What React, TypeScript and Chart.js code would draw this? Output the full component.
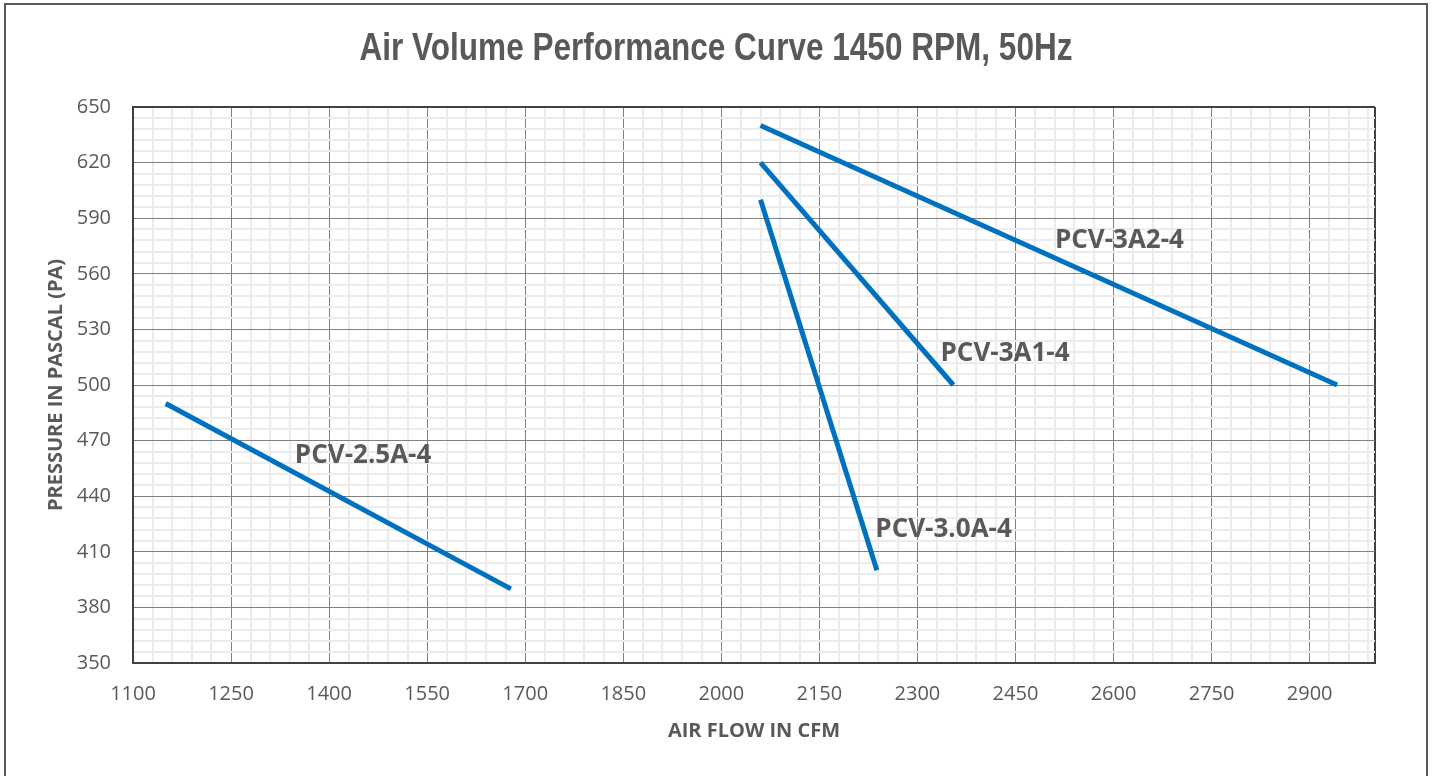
import { useEffect, useRef } from "react";
import { Chart, registerables } from "chart.js";

Chart.register(...registerables);

const TITLE = "Air Volume Performance Curve 1450 RPM, 50Hz";
const X_TITLE = "AIR FLOW IN CFM";
const Y_TITLE = "PRESSURE IN PASCAL (PA)";

const xMin = 1100;
const xMax = 3000;
const xMinorStep = 30;
const yMin = 350;
const yMax = 650;
const yMinorStep = 6;
const xTickLabels = [1100, 1250, 1400, 1550, 1700, 1850, 2000, 2150, 2300, 2450, 2600, 2750, 2900];
const yTickLabels = [350, 380, 410, 440, 470, 500, 530, 560, 590, 620, 650];

const seriesNames = ["PCV-2.5A-4", "PCV-3.0A-4", "PCV-3A1-4", "PCV-3A2-4"];
const pcv25Flow = [1150, 1678];
const pcv25Pressure = [490, 390];
const pcv30Flow = [2060, 2238];
const pcv30Pressure = [600, 400];
const pcv3a1Flow = [2060, 2355];
const pcv3a1Pressure = [620, 500];
const pcv3a2Flow = [2060, 2942];
const pcv3a2Pressure = [640, 500];
const labelFlow = [1452, 2340, 2434, 2609];
const labelPressure = [462, 422, 517, 578];

const LINE_COLOR = "#0070C0";
const TEXT_COLOR = "#595959";
const FRAME_COLOR = "#404040";
const MAJOR_GRID = "#808080";
const MINOR_GRID = "#ececec";

const TITLE_WIDTH = 713;
const TITLE_CENTER_Y = 49;

const flows = [pcv25Flow, pcv30Flow, pcv3a1Flow, pcv3a2Flow];
const pressures = [pcv25Pressure, pcv30Pressure, pcv3a1Pressure, pcv3a2Pressure];

function buildTicks(min: number, max: number, step: number) {
  const out: number[] = [];
  for (let v = min; v < max; v += step) out.push(v);
  out.push(max);
  return out;
}

const labelPlugin = {
  id: "seriesLabels",
  afterDatasetsDraw(chart: any) {
    const { ctx, scales } = chart;
    ctx.save();
    ctx.font = 'bold 26px "Open Sans"';
    ctx.fillStyle = TEXT_COLOR;
    ctx.textAlign = "center";
    ctx.textBaseline = "middle";
    seriesNames.forEach((name, i) => {
      ctx.fillText(name, scales.x.getPixelForValue(labelFlow[i]), scales.y.getPixelForValue(labelPressure[i]));
    });
    ctx.restore();
  },
};

const condensedTitlePlugin = {
  id: "condensedTitle",
  afterDraw(chart: any) {
    const { ctx, width } = chart;
    ctx.save();
    ctx.font = 'bold 39px "Liberation Sans", Arial, sans-serif';
    ctx.fillStyle = TEXT_COLOR;
    ctx.textAlign = "center";
    ctx.textBaseline = "middle";
    const w = ctx.measureText(TITLE).width;
    const sx = TITLE_WIDTH / w;
    ctx.translate(width / 2, TITLE_CENTER_Y);
    ctx.scale(sx, 1);
    ctx.fillText(TITLE, 0, 0);
    ctx.restore();
  },
};

export default function App() {
  const ref = useRef<HTMLCanvasElement>(null);
  useEffect(() => {
    if (!ref.current) return;
    const xTicks = buildTicks(xMin, xMax, xMinorStep);
    const yTicks = buildTicks(yMin, yMax, yMinorStep);
    const chart = new Chart(ref.current, {
      type: "scatter",
      data: {
        datasets: seriesNames.map((name, i) => ({
          label: name,
          data: flows[i].map((f, j) => ({ x: f, y: pressures[i][j] })),
          showLine: true,
          borderColor: LINE_COLOR,
          backgroundColor: LINE_COLOR,
          borderWidth: 5,
          borderCapStyle: "butt",
          pointRadius: 0,
          pointHoverRadius: 0,
        })),
      },
      options: {
        responsive: false,
        animation: false,
        layout: { padding: { left: 44, right: 57, top: 107, bottom: 31 } },
        plugins: {
          legend: { display: false },
          tooltip: { enabled: false },
          title: { display: false },
        },
        scales: {
          x: {
            type: "linear",
            min: xMin,
            max: xMax,
            afterBuildTicks: (axis: any) => {
              axis.ticks = xTicks.map((v) => ({ value: v }));
            },
            afterFit: (scale: any) => {
              scale.height = 82;
            },
            ticks: {
              autoSkip: false,
              maxRotation: 0,
              minRotation: 0,
              padding: 19,
              color: TEXT_COLOR,
              font: { family: '"Open Sans"', size: 20 },
              callback: (v: any) => (xTickLabels.includes(v) ? String(v) : ""),
            },
            grid: {
              drawTicks: false,
              color: (c: any) => {
                const v = c.tick?.value;
                if (v === xMin || v === xMax) return FRAME_COLOR;
                return xTickLabels.includes(v) ? MAJOR_GRID : MINOR_GRID;
              },
              lineWidth: (c: any) => {
                const v = c.tick?.value;
                if (v === xMin || v === xMax) return 2;
                return xTickLabels.includes(v) ? 1 : 2;
              },
            },
            border: { display: true, color: FRAME_COLOR, width: 2 },
            title: {
              display: true,
              text: X_TITLE,
              color: TEXT_COLOR,
              font: { family: '"Open Sans"', size: 20, weight: "bold" },
              padding: { top: 0, bottom: 2 },
            },
          },
          y: {
            type: "linear",
            min: yMin,
            max: yMax,
            afterBuildTicks: (axis: any) => {
              axis.ticks = yTicks.map((v) => ({ value: v }));
            },
            afterFit: (scale: any) => {
              scale.width = 89;
            },
            ticks: {
              autoSkip: false,
              padding: 22,
              color: TEXT_COLOR,
              font: { family: '"Open Sans"', size: 20 },
              callback: (v: any) => (yTickLabels.includes(v) ? String(v) : ""),
            },
            grid: {
              drawTicks: false,
              color: (c: any) => {
                const v = c.tick?.value;
                if (v === yMin || v === yMax) return FRAME_COLOR;
                return yTickLabels.includes(v) ? MAJOR_GRID : MINOR_GRID;
              },
              lineWidth: (c: any) => {
                const v = c.tick?.value;
                if (v === yMin || v === yMax) return 2;
                return yTickLabels.includes(v) ? 1 : 2;
              },
            },
            border: { display: true, color: FRAME_COLOR, width: 2 },
            title: {
              display: true,
              text: Y_TITLE,
              color: TEXT_COLOR,
              font: { family: '"Open Sans"', size: 20, weight: "bold" },
              padding: { top: 0, bottom: 0 },
            },
          },
        },
      } as any,
      plugins: [labelPlugin, condensedTitlePlugin],
    });
    return () => chart.destroy();
  }, []);

  return (
    <div style={{ position: "fixed", left: 0, top: 0, width: 1432, height: 776, background: "#fff", overflow: "hidden" }}>
      <div
        style={{
          position: "absolute",
          left: 4,
          top: 3,
          width: 1424,
          height: 790,
          border: "2px solid #595959",
          boxSizing: "border-box",
        }}
      />
      <canvas ref={ref} width={1432} height={776} style={{ position: "absolute", left: 0, top: 0 }} />
    </div>
  );
}
